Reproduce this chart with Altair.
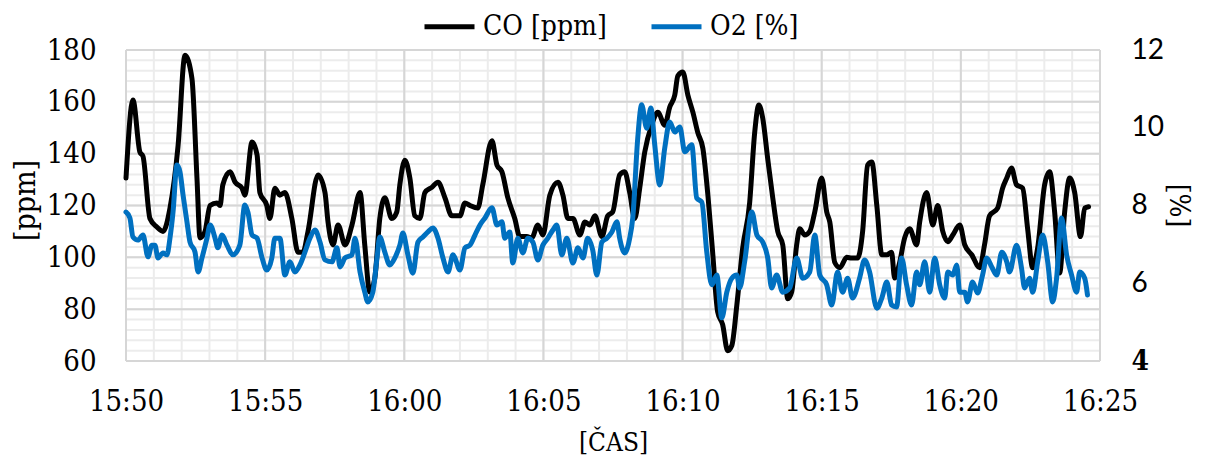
import altair as alt
import pandas as pd

# minutes after 15:50
co_min = [0.00,0.25,0.50,0.61,0.86,1.11,1.33,1.58,1.87,2.12,
          2.37,2.55,2.66,2.84,3.02,3.27,3.38,3.48,3.74,3.92,
          4.17,4.27,4.53,4.71,4.81,5.06,5.17,5.35,5.53,5.71,
          5.96,6.18,6.36,6.54,6.90,7.15,7.26,7.44,7.62,7.87,
          8.12,8.41,8.58,8.76,8.94,9.12,9.30,9.55,9.73,9.84,
          10.02,10.20,10.38,10.56,10.74,10.99,11.21,11.46,11.71,12.00,
          12.18,12.36,12.64,12.82,13.15,13.33,13.51,13.72,13.97,14.15,
          14.40,14.58,14.80,14.98,15.23,15.52,15.70,15.88,16.06,16.31,
          16.49,16.67,16.85,17.10,17.31,17.49,17.74,17.92,18.10,18.28,
          18.46,18.64,18.89,19.11,19.36,19.54,19.72,19.83,20.01,20.19,
          20.37,20.55,20.73,20.91,21.08,21.26,21.44,21.62,21.77,21.95,
          22.16,22.41,22.59,22.74,22.88,23.06,23.24,23.42,23.60,23.78,
          23.92,24.10,24.21,24.39,24.57,24.75,25.00,25.18,25.29,25.47,
          25.65,25.90,26.08,26.29,26.47,26.65,26.80,26.98,27.16,27.34,
          27.51,27.62,27.80,27.98,28.16,28.41,28.52,28.77,28.99,29.17,
          29.35,29.53,29.71,29.96,30.14,30.39,30.68,30.85,31.03,31.32,
          31.50,31.65,31.82,32.00,32.22,32.40,32.58,32.76,33.01,33.19,
          33.37,33.55,33.73,33.91,34.09,34.30,34.45,34.59]
co_ppm = [130.6,160.7,140.6,139,115,111.7,110,119,143,178,
          169,130.6,107.5,110,120,121,120,128,133,129,
          126.7,124,144.5,139.5,125,120,115,126.7,124,125,
          115,102,102,110,131.8,125,113.6,104.8,112.5,104.8,
          112.5,125,104.8,86.6,92,115,123,115,117.5,128,
          137.5,130.6,116,115,125,127,129,123,116,116,
          121,120,119,128,145,135.6,133,123,115,108,
          108,107.5,112.5,108.6,124,129,124,115,115,108.6,
          113.6,112.5,116,108,116,117.5,131.8,133,125,115,
          126.7,140.6,151,156,151,158,162.6,170,171.5,162.6,
          156,148,142,124,102,79,74,64,66,81.6,
          103.6,121,148,158.8,153.7,138,123,110,104.8,84,
          86.6,104.8,111,108.6,110,117.5,130.6,117.5,113.6,98,
          96,100,99.7,99.7,110,135.6,136.8,120,101,101,
          102,92,98,107.5,111,104.8,113.6,125,112.5,120,
          110,106,108.6,112.5,104.8,101,96,104.8,116,119,
          126.7,130.6,134.5,128,126.7,111,96,103.6,128,133,
          117.5,94,117.5,130.6,125,108,119,119.5]

o2_min = [0.00,0.14,0.25,0.43,0.61,0.79,0.93,1.04,1.15,1.33,
          1.47,1.58,1.69,1.83,1.94,2.05,2.19,2.30,2.48,2.59,
          2.73,2.91,3.02,3.20,3.30,3.45,3.63,3.84,4.09,4.27,
          4.38,4.53,4.71,4.89,5.06,5.24,5.35,5.53,5.71,5.89,
          6.07,6.25,6.43,6.61,6.79,6.97,7.15,7.40,7.58,7.69,
          7.87,8.12,8.23,8.41,8.58,8.69,8.87,9.02,9.12,9.30,
          9.48,9.66,9.84,9.95,10.13,10.31,10.49,10.67,10.85,11.03,
          11.21,11.39,11.57,11.75,11.82,12.00,12.18,12.36,12.54,12.72,
          12.90,13.15,13.33,13.51,13.61,13.79,13.90,14.08,14.26,14.44,
          14.62,14.80,14.98,15.16,15.34,15.48,15.66,15.84,16.06,16.24,
          16.42,16.59,16.77,16.92,17.10,17.28,17.46,17.64,17.74,17.92,
          18.10,18.21,18.39,18.53,18.71,18.86,19.00,19.18,19.36,19.54,
          19.72,19.90,20.08,20.33,20.51,20.69,20.87,21.05,21.23,21.41,
          21.59,21.77,21.95,22.05,22.23,22.49,22.67,22.88,23.06,23.20,
          23.38,23.60,23.85,24.10,24.32,24.57,24.75,24.93,25.18,25.36,
          25.57,25.75,25.93,26.11,26.36,26.54,26.72,26.98,27.16,27.34,
          27.51,27.69,27.87,28.05,28.23,28.41,28.52,28.70,28.88,29.06,
          29.24,29.42,29.53,29.71,29.85,29.96,30.14,30.24,30.42,30.60,
          30.78,30.93,31.11,31.29,31.47,31.65,31.75,32.00,32.18,32.29,
          32.47,32.58,32.76,32.94,33.12,33.30,33.44,33.62,33.80,33.98,
          34.16,34.27,34.45,34.55]
o2_pct = [7.83,7.68,7.19,7.11,7.24,6.68,6.98,6.98,6.65,6.78,
          6.73,7.16,7.83,9.04,8.86,8.27,7.58,7.06,6.80,6.29,
          6.65,7.16,7.50,7.16,6.91,7.24,6.98,6.73,6.98,8.01,
          7.83,7.24,7.16,6.65,6.34,6.65,7.16,7.16,6.21,6.55,
          6.29,6.47,6.80,7.16,7.37,7.06,6.60,6.55,6.91,6.42,
          6.65,6.73,7.16,6.29,5.77,5.52,5.77,6.65,7.19,6.80,
          6.47,6.65,6.98,7.29,6.73,6.26,7.06,7.19,7.32,7.42,
          7.16,6.65,6.29,6.73,6.65,6.34,6.91,6.98,7.24,7.50,
          7.68,7.94,7.50,7.58,7.16,7.32,6.52,7.16,6.78,7.16,
          7.06,6.60,6.98,7.16,7.37,7.50,6.73,7.16,6.52,6.91,
          6.65,7.16,6.86,6.21,7.06,7.16,7.32,7.58,7.16,6.78,
          7.16,7.68,9.74,10.59,9.99,10.51,9.56,8.53,9.48,10.15,
          9.89,10.02,9.38,9.56,8.19,8.09,6.80,5.96,6.21,5.11,
          5.77,6.13,6.21,5.88,6.55,7.83,7.24,7.06,6.65,5.88,
          6.21,5.77,5.88,6.65,6.13,6.29,7.24,6.21,5.96,5.44,
          6.29,5.77,6.13,5.62,6.13,6.60,6.29,5.36,5.62,6.03,
          5.44,5.39,6.65,5.96,5.44,6.29,5.96,6.55,5.77,6.65,
          5.96,5.62,6.29,6.21,6.47,5.77,5.77,5.52,6.03,5.75,
          6.21,6.65,6.42,6.21,6.80,6.55,6.29,6.98,6.39,5.88,
          6.13,5.77,6.55,7.24,6.55,5.52,6.13,7.68,6.73,6.21,
          5.77,6.29,6.13,5.70]

series_names = ["CO [ppm]", "O2 [%]"]
series_colors = ["#000000", "#0070C0"]
x_tick_values = [0, 5, 10, 15, 20, 25, 30, 35]
x_tick_labels = ["15:50", "15:55", "16:00", "16:05", "16:10", "16:15", "16:20", "16:25"]
ppm_ticks = [60, 80, 100, 120, 140, 160, 180]
pct_ticks = [4, 6, 8, 10, 12]
minor_minutes = list(range(0, 36))
minor_ppm = list(range(60, 181, 4))

co_df = pd.DataFrame({"m": co_min, "v": co_ppm, "s": series_names[0]})
o2_df = pd.DataFrame({"m": o2_min, "v": o2_pct, "s": series_names[1]})

SERIF = "DejaVu Serif Condensed, DejaVu Serif"
SANS = "Lato"
label_expr = "[" + ",".join("'%s'" % t for t in x_tick_labels) + "][round(datum.value/5)]"

x_enc = alt.X(
    "m:Q",
    scale=alt.Scale(domain=[0, 35], nice=False, zero=False),
    axis=alt.Axis(
        values=x_tick_values, labelExpr=label_expr, title="[ČAS]",
        grid=False, domain=False, ticks=False,
        labelFont=SERIF, labelFontSize=29, labelPadding=26, labelFlush=False,
        labelColor="black", labelOverlap=False,
        titleFont=SERIF, titleFontSize=26, titleFontWeight="normal",
        titleColor="black", titleY=89, titleBaseline="alphabetic",
    ),
)

ppm_scale = alt.Scale(domain=[60, 180], nice=False, zero=False)
pct_scale = alt.Scale(domain=[4, 12], nice=False, zero=False)

color_enc = alt.Color(
    "s:N",
    scale=alt.Scale(domain=series_names, range=series_colors),
    legend=alt.Legend(
        title=None, orient="none", legendX=296, legendY=-51,
        direction="horizontal", symbolType="stroke", symbolSize=2500,
        symbolStrokeWidth=5, labelFont=SERIF, labelFontSize=28,
        labelColor="black", labelOffset=6, columnPadding=34, padding=0,
    ),
)

v_minor = alt.Chart(pd.DataFrame({"m": minor_minutes})).mark_rule(
    color="#ececec", strokeWidth=2).encode(x=x_enc)
h_minor = alt.Chart(pd.DataFrame({"v": minor_ppm})).mark_rule(
    color="#ececec", strokeWidth=2).encode(y=alt.Y("v:Q", scale=ppm_scale, axis=None))
v_major = alt.Chart(pd.DataFrame({"m": x_tick_values})).mark_rule(
    color="#d6d6d6", strokeWidth=2).encode(x=x_enc)
h_major = alt.Chart(pd.DataFrame({"v": ppm_ticks})).mark_rule(
    color="#d6d6d6", strokeWidth=2).encode(y=alt.Y("v:Q", scale=ppm_scale, axis=None))

line_kw = dict(strokeWidth=5, strokeJoin="round", strokeCap="round", interpolate="monotone")

co_line = alt.Chart(co_df).mark_line(**line_kw).encode(
    x=x_enc,
    y=alt.Y("v:Q", scale=ppm_scale, axis=alt.Axis(
        values=ppm_ticks, orient="left", title="[ppm]", grid=False, domain=False, ticks=False,
        labelFont=SERIF, labelFontSize=29, labelPadding=30, labelColor="black",
        titleFont=SERIF, titleFontSize=30, titleFontWeight="normal", titleColor="black",
        titleAngle=-90, titleX=-92, titleY=150, titleAlign="center", titleBaseline="alphabetic",
    )),
    color=color_enc,
)

o2_line = alt.Chart(o2_df).mark_line(**line_kw).encode(
    x=x_enc,
    y=alt.Y("v:Q", scale=pct_scale, axis=alt.Axis(
        values=pct_ticks, orient="right", title="[%]", grid=False, domain=False, ticks=False,
        labelFont={"condition": {"test": "datum.value == 4", "value": SERIF}, "value": SANS},
        labelFontWeight={"condition": {"test": "datum.value == 4", "value": "bold"}, "value": "normal"},
        labelFontSize=28, labelPadding=31, labelColor="black", labelAlign="left",
        titleFont=SERIF, titleFontSize=28, titleFontWeight="normal", titleColor="black",
        titleAngle=90, titleX=69, titleY=155, titleAlign="center", titleBaseline="alphabetic",
    )),
    color=color_enc,
)

chart = alt.layer(v_minor, h_minor, v_major, h_major, co_line, o2_line).resolve_scale(
    y="independent"
).properties(
    width=974, height=311,
    padding={"left": 126, "top": 50, "right": 110, "bottom": 95},
    autosize=alt.AutoSizeParams(type="none"),
    background="white",
).configure_view(stroke=None)

chart.save("out.html", embed_options={"renderer": "svg", "actions": False})
